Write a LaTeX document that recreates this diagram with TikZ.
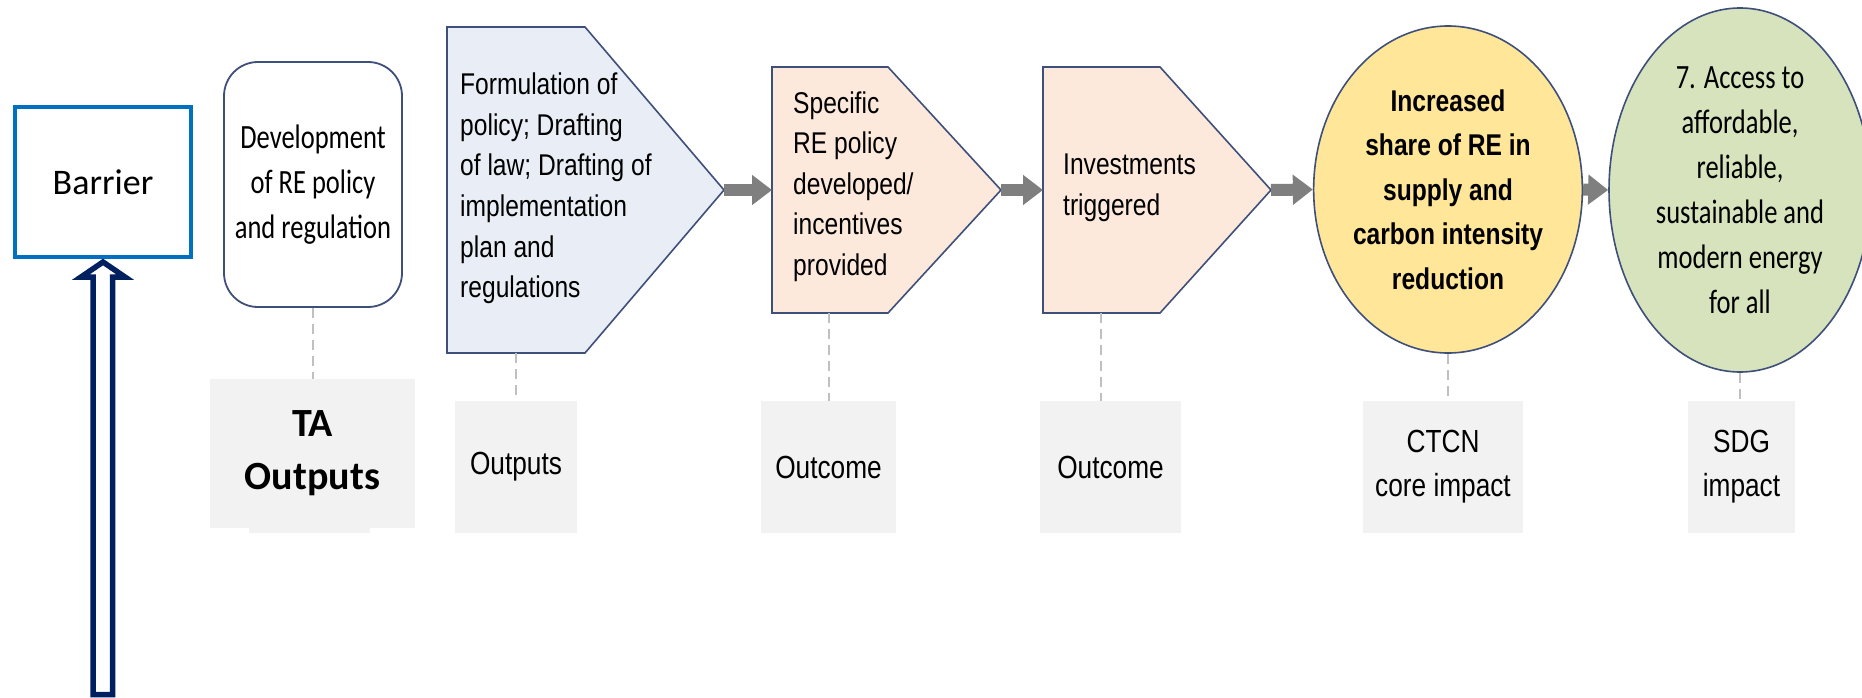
\documentclass[tikz,border=0pt]{standalone}
\usepackage{fontspec}
\setmainfont{Liberation Sans}
\newfontfamily\narfnt[FakeStretch=0.82]{Liberation Sans}
\newfontfamily\cnarfnt[FakeStretch=0.78]{Carlito}
\newfontfamily\calfnt{Carlito}
\usetikzlibrary{shapes.geometric,arrows.meta,calc}
\definecolor{bord}{HTML}{3E4F7A}
\definecolor{formfill}{HTML}{E9EEF6}
\definecolor{peach}{HTML}{FCE9DB}
\definecolor{gold}{HTML}{FFE699}
\definecolor{sage}{HTML}{D6E3BC}
\definecolor{lbl}{HTML}{F2F2F2}
\definecolor{arrgray}{HTML}{7F7F7F}
\definecolor{navy}{HTML}{002060}
\definecolor{barblue}{HTML}{0070C0}
\definecolor{dashgray}{HTML}{C0C0C0}
\begin{document}
\begin{tikzpicture}[x=1pt,y=-1pt,
  shapeborder/.style={draw=bord, line width=1.6pt},
  pentshape/.style={shapeborder, line join=miter},
  flowarrow/.style={draw=arrgray, line width=12pt, -{Triangle[length=20pt,width=29pt]}},
  dashline/.style={draw=dashgray, line width=1.5pt, dash pattern=on 10pt off 6pt},
  pentext/.style={anchor=west, inner sep=0pt, align=left, font={\narfnt\fontsize{30}{40.6}\selectfont}},
  lblbox/.style={fill=lbl, inner sep=0pt, align=center, font={\narfnt\fontsize{32}{44}\selectfont}},
  ellnode/.style={ellipse, shapeborder, inner sep=0pt, align=center}
]
\useasboundingbox (0,0) rectangle (1862,698);

% Barrier and hollow arrow
\node[draw=barblue, line width=4pt, minimum width=176pt, minimum height=150pt, inner sep=0pt,
      font={\calfnt\fontsize{36}{40}\selectfont}] (barrier) at (103,182) {Barrier};
\draw[draw=navy, fill=white, line width=5.5pt, line join=miter]
  ($(barrier.south)+(0,3)$) coordinate (uptip)
  -- ++(22,15) -- ++(-12.5,0) -- ++(0,417.5) -- ++(-19.5,0) -- ++(0,-417.5) -- ++(-12,0) -- cycle;

% Development
\node[shapeborder, line width=1.8pt, rounded corners=34pt, minimum width=178pt, minimum height=245pt,
      inner sep=0pt, align=center, font={\cnarfnt\fontsize{34}{45}\selectfont}] (dev) at (313,184.5)
  {Development\\of RE policy\\and regulation};

% Formulation pentagon
\draw[pentshape, fill=formfill] (447,27) -- (585,27) -- (724,190) coordinate (formtip)
  -- (585,353) -- (447,353) -- cycle;
\coordinate (forms) at (516,353);
\node[pentext] (formtext) at (460,188.5)
  {Formulation of\\policy; Drafting\\of law; Drafting of\\implementation\\plan and\\regulations};

% Specific pentagon
\draw[pentshape, fill=peach] (772,67) -- (888,67) -- (1001,190) coordinate (spectip)
  -- (888,313) -- (772,313) -- cycle;
\coordinate (specwest) at (772,190);
\coordinate (specs) at (829,313);
\node[pentext] (spectext) at (793,186.5)
  {Specific\\RE policy\\developed/\\incentives\\provided};

% Investments pentagon
\draw[pentshape, fill=peach] (1043,67) -- (1160,67) -- (1271,190) coordinate (invtip)
  -- (1160,313) -- (1043,313) -- cycle;
\coordinate (invwest) at (1043,190);
\coordinate (invs) at (1101,313);
\node[pentext] (invtext) at (1063,188)
  {Investments\\triggered};

% Ellipses
\node[ellnode, fill=gold, minimum width=236pt, minimum height=327pt,
      font={\narfnt\bfseries\fontsize{30}{44.5}\selectfont}] (core) at (1448,189.5)
  {Increased\\share of RE in\\supply and\\carbon intensity\\reduction};
\node[ellnode, fill=sage, minimum width=262pt, minimum height=364pt,
      font={\cnarfnt\fontsize{34}{45}\selectfont}] (sdg) at (1740,190)
  {7. Access to\\affordable,\\reliable,\\sustainable and\\modern energy\\for all};

% Flow arrows
\draw[flowarrow] (formtip) -- (specwest);
\draw[flowarrow] (spectip) -- (invwest);
\draw[flowarrow] (invtip) -- (core.west);
\draw[flowarrow] (core.east) -- (sdg.west);

% Label boxes
\fill[lbl] (249,500) rectangle (370,533);
\node[lblbox, minimum width=205pt, minimum height=149pt,
      font={\calfnt\bfseries\fontsize{40}{53}\selectfont}] (ta) at (312.5,453.5) {TA\\Outputs};
\node[lblbox, minimum width=122pt, minimum height=132pt] (outp) at (516,467) {Outputs};
\node[lblbox, minimum width=135pt, minimum height=132pt] (outc1) at (828.5,467) {Outcome};
\node[lblbox, minimum width=141pt, minimum height=132pt] (outc2) at (1110.5,467) {Outcome};
\node[lblbox, minimum width=160pt, minimum height=132pt] (ctcn) at (1443,467) {CTCN\\core impact};
\node[lblbox, minimum width=107pt, minimum height=132pt] (sdgl) at (1741.5,467) {SDG\\impact};

% Dashed leaders
\draw[dashline] (dev.south) -- (dev.south |- ta.north);
\draw[dashline] (forms) -- (forms |- outp.north);
\draw[dashline] (specs) -- (specs |- outc1.north);
\draw[dashline] (invs) -- (invs |- outc2.north);
\draw[dashline] (core.south) -- (core.south |- ctcn.north);
\draw[dashline] (sdg.south) -- (sdg.south |- sdgl.north);
\end{tikzpicture}
\end{document}
